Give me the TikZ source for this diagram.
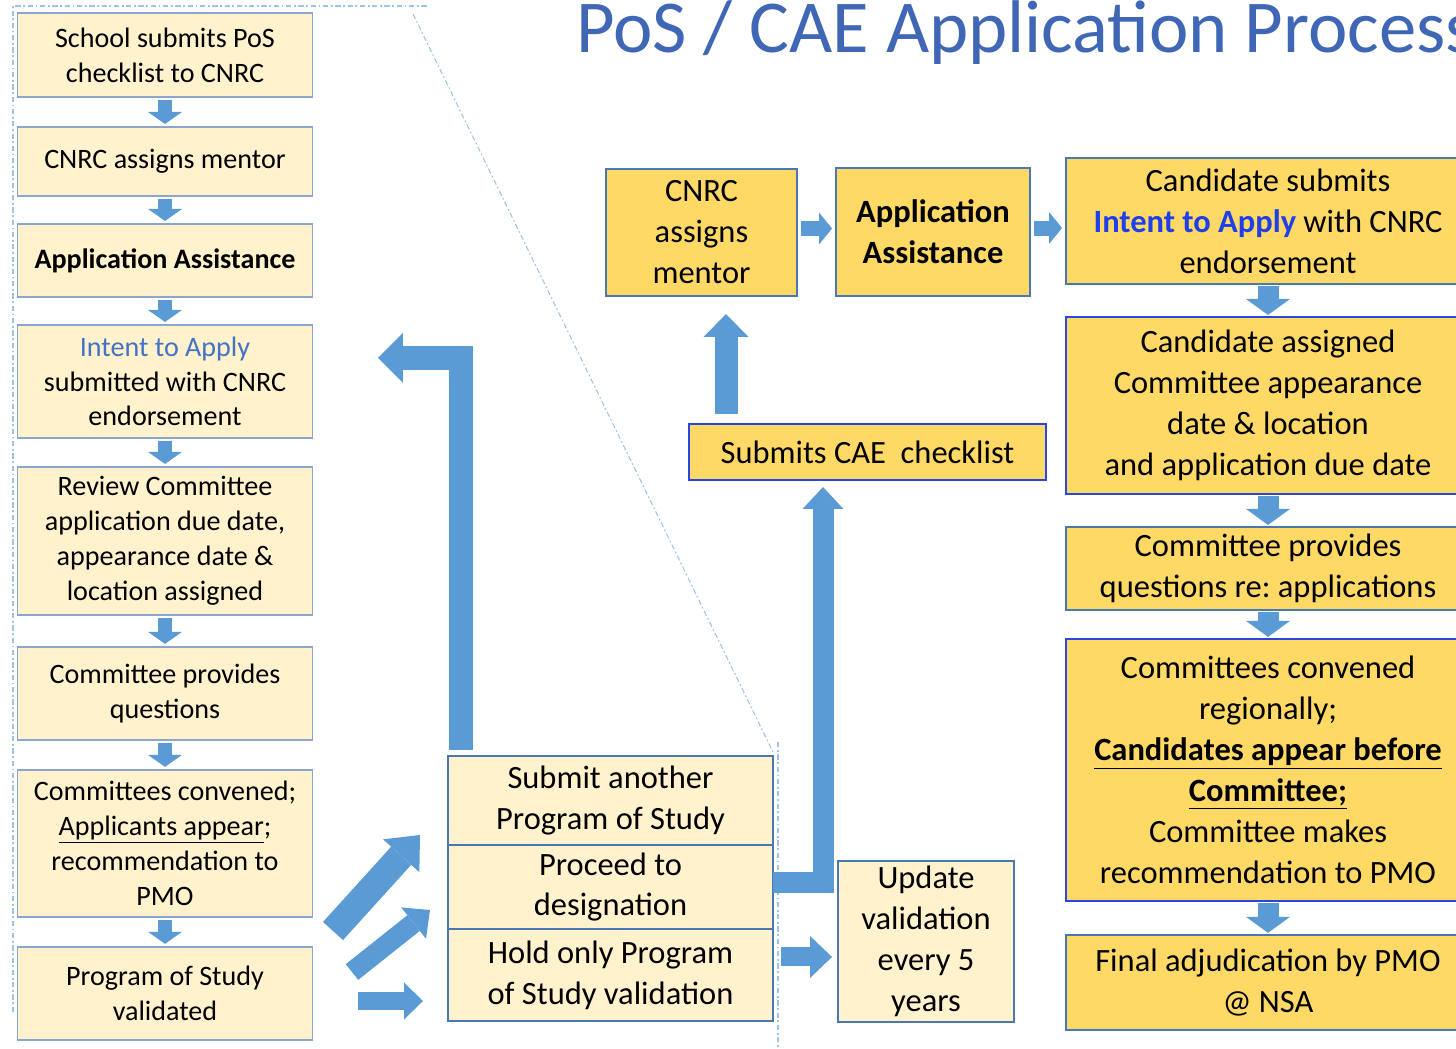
\documentclass[tikz,border=0pt]{standalone}
\usepackage{fontspec}
\setmainfont{Carlito}
\usepackage{xcolor}
\usepackage{tikz}
\usetikzlibrary{arrows.meta,positioning,calc}

\definecolor{paleyellow}{HTML}{FFF2CC}
\definecolor{gold}{HTML}{FFD966}
\definecolor{boxedge}{HTML}{8AA6CF}
\definecolor{darkedge}{HTML}{4A78B0}
\definecolor{brightedge}{HTML}{2B45E0}
\definecolor{arrowblue}{HTML}{5B9BD5}
\definecolor{titleblue}{HTML}{3F67B5}
\definecolor{calloutline}{HTML}{9DC3E6}
\definecolor{intentblue}{HTML}{4472C4}
\definecolor{applyblue}{HTML}{1F3FE8}

\newcommand{\lfont}{\fontsize{16}{19.8}\selectfont}
\newcommand{\rfont}{\fontsize{18.5}{23.3}\selectfont}

\begin{document}
\begin{tikzpicture}[
    x=0.02cm, y=-0.02cm,
    node distance=0.6cm,
    lbox/.style={rectangle, draw=boxedge, fill=paleyellow, line width=1.1pt, align=center, minimum width=5.9cm, font=\lfont, inner sep=2pt, outer sep=0pt},
    gbox/.style={rectangle, draw=darkedge, fill=gold, line width=1.1pt, align=center, font=\rfont, inner sep=2pt, outer sep=0pt},
    sbox/.style={rectangle, draw=darkedge, fill=paleyellow, line width=1.1pt, align=center, font=\rfont, minimum width=6.5cm, outer sep=0pt, inner sep=2pt},
    callout/.style={draw=calloutline, line width=0.6pt, dash pattern=on 3pt off 1.5pt on 1pt off 1.5pt},
    downarrow/.style={draw=arrowblue, line width=0.28cm, -{Triangle[length=0.24cm, width=0.68cm, line width=0pt]}, shorten <=0.06cm, shorten >=0.06cm},
    rdownarrow/.style={draw=arrowblue, line width=0.42cm, -{Triangle[length=0.32cm, width=0.88cm, line width=0pt]}, shorten <=0.04cm, shorten >=0.04cm},
    rarrow/.style={draw=arrowblue, line width=0.3cm, -{Triangle[length=0.26cm, width=0.64cm, line width=0pt]}, shorten <=0.08cm, shorten >=0.08cm},
    uparrow/.style={draw=arrowblue, line width=0.46cm, -{Triangle[length=0.46cm, width=0.9cm, line width=0pt]}},
    bigarrow/.style={draw=arrowblue, line width=0.48cm, line join=miter, -{Triangle[length=0.5cm, width=1.0cm, line width=0pt]}},
    midarrow/.style={draw=arrowblue, line width=0.42cm, line join=miter, -{Triangle[length=0.44cm, width=0.82cm, line width=0pt]}},
    harrow/.style={draw=arrowblue, line width=0.38cm, -{Triangle[length=0.44cm, width=0.84cm, line width=0pt]}}
]
    \useasboundingbox (0,0) rectangle (1456,1048);
    \clip (0,0) rectangle (1456,1048);

    % zoom callout lines
    \draw[callout] (13,1012) -- (13,6) -- (427,6);
    \draw[callout] (413,14) -- (773,752);
    \draw[callout] (778,742) -- (778,1048);

    \node[anchor=base west, font=\fontsize{42.5}{48}\selectfont, text=titleblue, inner sep=0pt] (title) at (576,52) {PoS / CAE Application Process};

    % PoS column
    \node[lbox, minimum height=1.68cm] (b1) at (165,55) {School submits PoS\\checklist to CNRC};
    \node[lbox, minimum height=1.38cm, below=of b1] (b2) {CNRC assigns mentor};
    \node[lbox, minimum height=1.46cm, below=0.56cm of b2] (b3) {\textbf{Application Assistance}};
    \node[lbox, minimum height=2.26cm, below=0.56cm of b3] (b4) {\textcolor{intentblue}{Intent to Apply}\\submitted with CNRC\\endorsement};
    \node[lbox, minimum height=2.96cm, below=0.58cm of b4] (b5) {Review Committee\\application due date,\\appearance date \&\\location assigned};
    \node[lbox, minimum height=1.86cm, below=0.64cm of b5] (b6) {Committee provides\\questions};
    \node[lbox, minimum height=2.94cm, below=of b6] (b7) {Committees convened;\\\underline{Applicants appear};\\recommendation to\\PMO};
    \node[lbox, minimum height=1.86cm, below=of b7] (b8) {Program of Study\\validated};

    \foreach \a/\b in {b1/b2, b2/b3, b3/b4, b4/b5, b5/b6, b6/b7, b7/b8}
        \draw[downarrow] (\a.south) -- (\b.north);

    % choices after validation
    \node[sbox, minimum height=1.78cm] (s1) at (610.5,800.5) {Submit another\\Program of Study};
    \node[sbox, minimum height=1.68cm, below=0pt of s1] (s2) {Proceed to\\designation};
    \node[sbox, minimum height=1.84cm, below=0pt of s2] (s3) {Hold only Program\\of Study validation};
    \node[sbox, minimum width=3.52cm, minimum height=3.22cm] (upd) at (926,941.5) {Update\\validation\\every 5\\years};

    \coordinate (d1a) at (333,931);
    \coordinate (d1b) at (420,835);
    \coordinate (d2a) at (352,972);
    \coordinate (d2b) at (430,910);
    \coordinate (d3a) at (358,1001);
    \coordinate (d3b) at (423,1001);
    \draw[draw=arrowblue, line width=0.54cm, -{Triangle[length=0.56cm, width=0.98cm, line width=0pt]}] (d1a) -- (d1b);
    \draw[draw=arrowblue, line width=0.4cm, -{Triangle[length=0.42cm, width=0.8cm, line width=0pt]}] (d2a) -- (d2b);
    \draw[draw=arrowblue, line width=0.36cm, -{Triangle[length=0.38cm, width=0.74cm, line width=0pt]}] (d3a) -- (d3b);

    % CAE track
    \node[gbox, minimum width=3.82cm, minimum height=2.54cm] (m1) at (701.5,232.5) {CNRC\\assigns\\mentor};
    \node[gbox, minimum width=3.88cm, minimum height=2.56cm] (m2) at (933,232) {\textbf{Application}\\\textbf{Assistance}};
    \node[gbox, draw=brightedge, minimum width=7.14cm, minimum height=1.12cm] (cae) at (867.5,452) {Submits CAE\ \ checklist};

    \node[gbox, minimum width=8.08cm, minimum height=2.52cm] (c1) at (1268,221) {Candidate submits\\\textcolor{applyblue}{\textbf{Intent to Apply}} with CNRC\\endorsement};
    \node[gbox, draw=brightedge, minimum width=8.08cm, minimum height=3.54cm, below=0.66cm of c1] (c2) {Candidate assigned\\Committee appearance\\date \& location\\and application due date};
    \node[gbox, minimum width=8.08cm, minimum height=1.66cm, below=0.66cm of c2] (c3) {Committee provides\\questions re:\ applications};
    \node[gbox, draw=brightedge, minimum width=8.08cm, minimum height=5.24cm, below=0.58cm of c3] (c4) {Committees convened\\regionally;\\\underline{\textbf{Candidates appear before}}\\\underline{\textbf{Committee;}}\\Committee makes\\recommendation to PMO};
    \node[gbox, minimum width=8.08cm, minimum height=1.9cm, below=0.68cm of c4] (c5) {Final adjudication by PMO\\@ NSA};

    \foreach \a/\b in {c1/c2, c2/c3, c3/c4, c4/c5}
        \draw[rdownarrow] (\a.south) -- (\b.north);

    \draw[rarrow] ([yshift=0.08cm]m1.east) -- ([yshift=0.08cm]m1.east -| m2.west);
    \draw[rarrow] ([yshift=0.08cm]m2.east) -- ([yshift=0.08cm]m2.east -| c1.west);
    \draw[uparrow, shorten <=0.2cm, shorten >=0.36cm] ([xshift=0.49cm]m1.south |- cae.north) -- ([xshift=0.49cm]m1.south);

    % loops back
    \draw[bigarrow, shorten <=0.12cm, shorten >=1.31cm] ([xshift=-2.99cm]s1.north) |- ([yshift=0.47cm]b4.east);
    \draw[midarrow, shorten >=0.14cm] ([yshift=0.08cm]s2.east) -| ([xshift=-0.89cm]cae.south);
    \draw[harrow, shorten <=0.16cm, shorten >=0.12cm] ([yshift=0.36cm]s3.east) -- ([yshift=0.36cm]s3.east -| upd.west);
\end{tikzpicture}
\end{document}
